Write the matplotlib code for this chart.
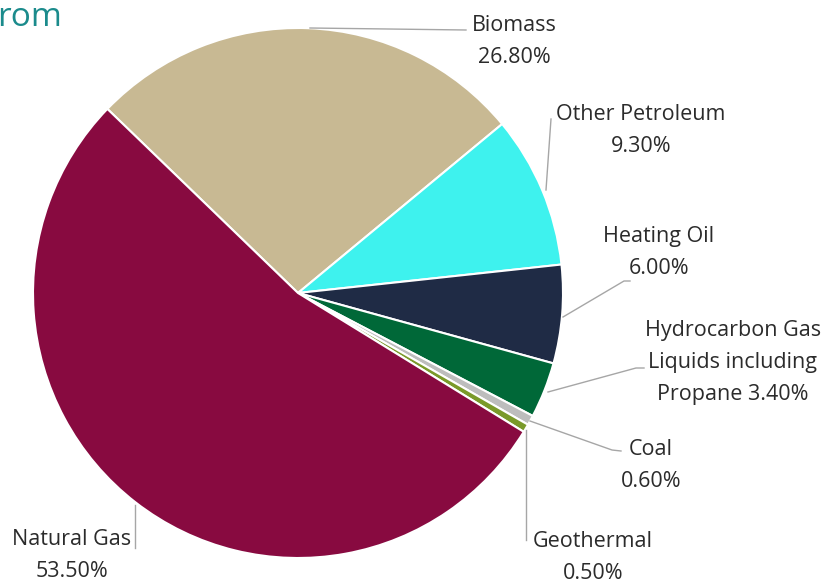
import matplotlib
matplotlib.use('Agg')
import matplotlib.pyplot as plt

# 数据
labels = ['Biomass', 'Other Petroleum', 'Heating Oil',
          'Hydrocarbon Gas\nLiquids including\nPropane', 'Coal', 'Geothermal', 'Natural Gas']
shares = [26.8, 9.3, 6.0, 3.4, 0.6, 0.5, 53.5]
colors = ['#C8B993', '#3EF2EE', '#1F2B45', '#006838', '#BDBDBD', '#7A9A2A', '#880A40']

H = 583

plt.rcParams['font.family'] = ['Open Sans', 'DejaVu Sans']
fig = plt.figure(figsize=(8.27, 5.83), dpi=100)
ax = fig.add_axes([0, 0, 1, 1])

ax.pie(shares, colors=colors, startangle=136, counterclock=False,
       center=(298, H - 293), radius=265, frame=True,
       wedgeprops={'edgecolor': 'white', 'linewidth': 1.5})
ax.set_xlim(0, 827)
ax.set_ylim(0, H)
ax.set_aspect('equal')
ax.axis('off')

# 标签位置 (像素, 从上往下, 第一行基线)
label_pos = [(514, 31), (641, 120), (659, 242), (733, 336), (651, 455), (593, 547), (72, 545)]
leaders = [
    [(310, 28), (466, 30)],
    [(546, 190), (551, 119)],
    [(563, 317), (624, 281), (630, 281)],
    [(548, 392), (636, 368), (644, 368)],
    [(530, 421), (612, 450), (621, 451)],
    [(526, 430), (526, 540)],
    [(135, 548), (135, 505)],
]
line_gap = 32

for lab, val, (x, y), pts in zip(labels, shares, label_pos, leaders):
    if lab.startswith('Hydrocarbon'):
        lines = (lab + ' %.2f%%' % val).split('\n')
    else:
        lines = (lab + '\n%.2f%%' % val).split('\n')
    for i, ln in enumerate(lines):
        ax.text(x, H - (y + i * line_gap), ln, ha='center', va='baseline', fontsize=15.5,
                color='#2B2B2B')
    xs = [p[0] for p in pts]
    ys = [H - p[1] for p in pts]
    ax.plot(xs, ys, color='#A6A6A6', linewidth=1)

ax.text(-3, H - 18, 'rom', ha='left', va='center', fontsize=24, color='#1B8B8C')

plt.savefig('out.png', dpi=100)
